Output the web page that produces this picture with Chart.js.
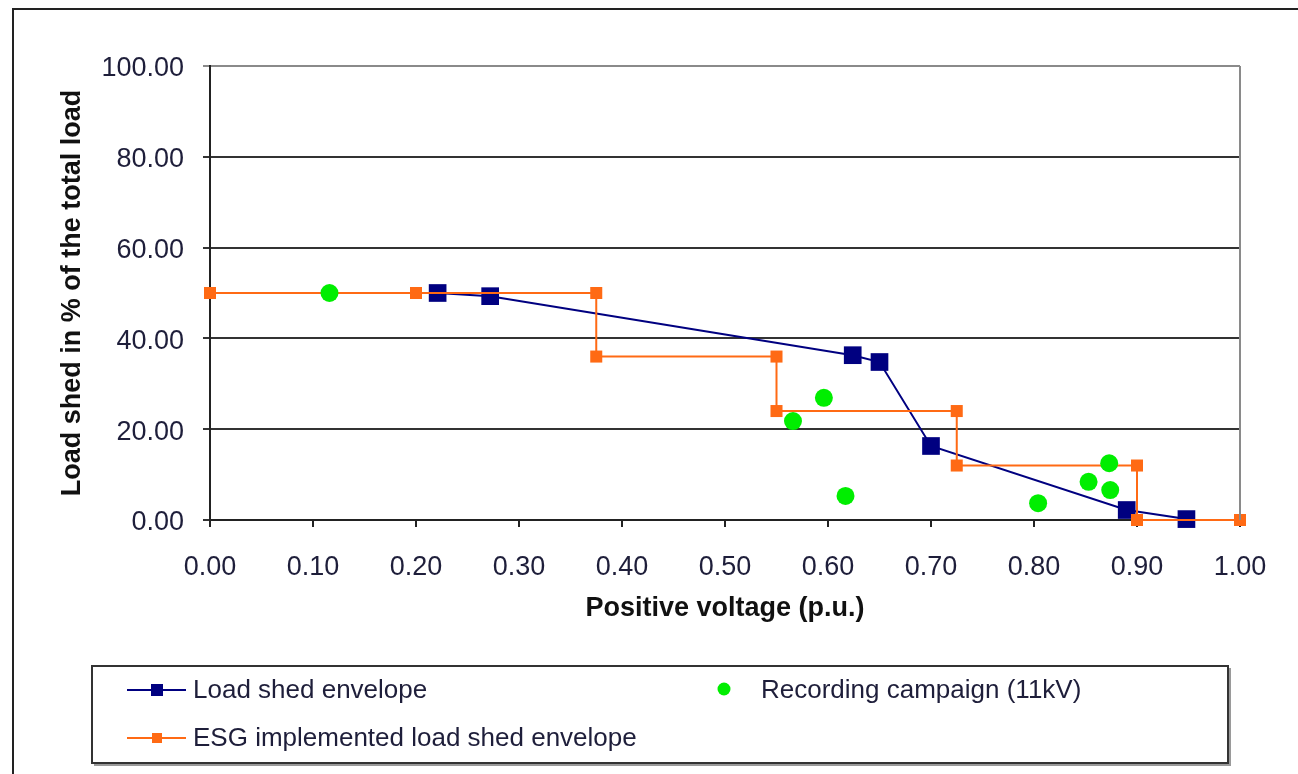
<!DOCTYPE html>
<html>
<head>
<meta charset="utf-8">
<script src="https://cdn.jsdelivr.net/npm/chart.js@4.4.1/dist/chart.umd.min.js"></script>
<style>
  html, body { margin: 0; padding: 0; background: #fff; }
  #wrap { position: relative; width: 1298px; height: 774px; }
</style>
</head>
<body>
<div id="wrap"><canvas id="c" width="1298" height="774"></canvas></div>
<script>
// ---- data ----
const envelopeX = [0.221, 0.272, 0.624, 0.650, 0.700, 0.890, 0.948];
const envelopeY = [50.0, 49.3, 36.3, 34.8, 16.3, 2.2, 0.2];

const esgX = [0.000, 0.200, 0.375, 0.375, 0.550, 0.550, 0.725, 0.725, 0.900, 0.900, 1.000];
const esgY = [50, 50, 50, 36, 36, 24, 24, 12, 12, 0, 0];

const recordingX = [0.116, 0.566, 0.596, 0.617, 0.804, 0.853, 0.873, 0.874];
const recordingY = [50.0, 21.8, 26.9, 5.3, 3.7, 8.4, 12.5, 6.6];

const xTicks = [0, 0.1, 0.2, 0.3, 0.4, 0.5, 0.6, 0.7, 0.8, 0.9, 1.0];
const yTicks = [0, 20, 40, 60, 80, 100];

const seriesNames = ['Load shed envelope', 'Recording campaign (11kV)', 'ESG implemented load shed envelope'];
const xTitle = 'Positive voltage (p.u.)';
const yTitle = 'Load shed in % of the total load';

const NAVY = '#000080';
const ORANGE = '#ff6a14';
const GREEN = '#00ee00';
const FONT = '"Liberation Sans", Arial, sans-serif';
const TXT = '#1e1e3a';

const pts = (xs, ys) => xs.map((x, i) => ({x: x, y: ys[i]}));

const framePlugin = {
  id: 'frame',
  beforeDraw(chart) {
    const ctx = chart.ctx;
    ctx.save();
    ctx.strokeStyle = '#222';
    ctx.lineWidth = 2;
    ctx.strokeRect(13, 9, 1300, 800);
    ctx.restore();
  },
  afterDraw(chart) {
    const ctx = chart.ctx;
    const a = chart.chartArea;
    ctx.save();
    // right plot border (grey)
    ctx.strokeStyle = '#8a8a8a';
    ctx.lineWidth = 2;
    ctx.beginPath();
    ctx.moveTo(a.right, a.top);
    ctx.lineTo(a.right, a.bottom);
    ctx.stroke();

    // legend box with shadow
    const L = 92, T = 666, R = 1228, B = 763;
    ctx.strokeStyle = '#9a9a9a';
    ctx.lineWidth = 3;
    ctx.beginPath();
    ctx.moveTo(L + 2, B + 1.5);
    ctx.lineTo(R + 1.5, B + 1.5);
    ctx.lineTo(R + 1.5, T + 2);
    ctx.stroke();
    ctx.strokeStyle = '#333';
    ctx.lineWidth = 2;
    ctx.strokeRect(L, T, R - L, B - T);

    ctx.font = '26px ' + FONT;
    ctx.fillStyle = TXT;
    ctx.textBaseline = 'middle';
    ctx.textAlign = 'left';

    // item 1: navy line + square
    const y1 = 690;
    ctx.strokeStyle = NAVY; ctx.lineWidth = 2;
    ctx.beginPath(); ctx.moveTo(127, y1); ctx.lineTo(186, y1); ctx.stroke();
    ctx.fillStyle = NAVY; ctx.fillRect(151, y1 - 6, 12, 12);
    ctx.fillStyle = TXT; ctx.fillText(seriesNames[0], 193, y1 + 1);

    // item 2: green dot
    ctx.fillStyle = GREEN;
    ctx.beginPath(); ctx.arc(724, 689, 6.5, 0, Math.PI * 2); ctx.fill();
    ctx.fillStyle = TXT; ctx.fillText(seriesNames[1], 761, y1 + 1);

    // item 3: orange line + square
    const y2 = 738;
    ctx.strokeStyle = ORANGE; ctx.lineWidth = 2;
    ctx.beginPath(); ctx.moveTo(127, y2); ctx.lineTo(186, y2); ctx.stroke();
    ctx.fillStyle = ORANGE; ctx.fillRect(152, y2 - 5, 10, 10);
    ctx.fillStyle = TXT; ctx.fillText(seriesNames[2], 193, y2 + 1);
    ctx.restore();
  }
};

new Chart(document.getElementById('c'), {
  type: 'scatter',
  data: {
    datasets: [
      {
        label: seriesNames[0],
        data: pts(envelopeX, envelopeY),
        showLine: true,
        borderColor: NAVY,
        backgroundColor: NAVY,
        borderWidth: 2,
        pointStyle: 'rect',
        pointRadius: 12.5,
        pointBorderWidth: 0,
        clip: false,
        order: 3
      },
      {
        label: seriesNames[2],
        data: pts(esgX, esgY),
        showLine: true,
        borderColor: ORANGE,
        backgroundColor: ORANGE,
        borderWidth: 2,
        pointStyle: 'rect',
        pointRadius: 8.5,
        pointBorderWidth: 0,
        clip: false,
        order: 2
      },
      {
        label: seriesNames[1],
        data: pts(recordingX, recordingY),
        showLine: false,
        borderColor: GREEN,
        backgroundColor: GREEN,
        pointStyle: 'circle',
        pointRadius: 9,
        pointBorderWidth: 0,
        clip: false,
        order: 1
      }
    ]
  },
  options: {
    responsive: false,
    animation: false,
    layout: { padding: { left: 0, top: 66, right: 58, bottom: 144 } },
    plugins: {
      legend: { display: false },
      tooltip: { enabled: false }
    },
    scales: {
      x: {
        type: 'linear',
        min: 0, max: 1,
        afterBuildTicks(s) { s.ticks = xTicks.map(v => ({value: v})); },
        afterFit(s) { s.height = 110; },
        ticks: {
          font: { family: FONT, size: 27 },
          color: TXT,
          padding: 24,
          maxRotation: 0,
          callback: v => Number(v).toFixed(2)
        },
        grid: { drawOnChartArea: false, drawTicks: true, tickLength: 7, color: '#222', lineWidth: 2 },
        border: { display: true, color: '#222', width: 2 },
        title: {
          display: true, text: xTitle, color: '#111',
          font: { family: FONT, size: 27, weight: 'bold' },
          padding: { top: 0, bottom: 5 }
        }
      },
      y: {
        type: 'linear',
        min: 0, max: 100,
        afterBuildTicks(s) { s.ticks = yTicks.map(v => ({value: v})); },
        afterFit(s) { s.width = 210; },
        ticks: {
          font: { family: FONT, size: 27 },
          color: TXT,
          padding: 19,
          labelOffset: 3,
          callback: v => Number(v).toFixed(2)
        },
        grid: {
          drawOnChartArea: true, drawTicks: true, tickLength: 7, lineWidth: 2,
          color: ctx => (ctx.tick && ctx.tick.value === 100) ? '#8a8a8a' : '#333'
        },
        border: { display: true, color: '#222', width: 2 },
        title: {
          display: true, text: yTitle, color: '#111',
          font: { family: FONT, size: 27, weight: 'bold' },
          padding: { top: 56, bottom: 0 }
        }
      }
    }
  },
  plugins: [framePlugin]
});
</script>
</body>
</html>
